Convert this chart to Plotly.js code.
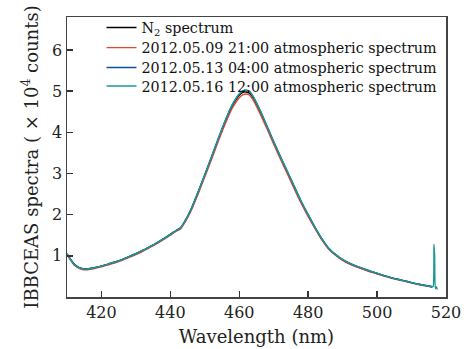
<!DOCTYPE html>
<html>
<head>
<meta charset="utf-8">
<script src="https://cdn.plot.ly/plotly-3.0.1.min.js"></script>
<style>html,body{margin:0;padding:0;background:#fff;}#chart{width:464px;height:349px;}</style>
</head>
<body>
<div id="chart"></div>
<script>
// Wavelength grid (nm)
const wavelength = [410,411,412,413,414,415,416,418,420,422,424,426,428,430,432,434,436,438,440,441,442,443,444,446,448,450,452,454,456,458,460,461,462,463,464,466,468,470,472,474,476,478,480,482,484,486,488,490,492,494,496,498,500,502,504,506,508,510,512,514,516,516.3,516.5,516.7,516.9,517.2,517.5];

// Spectra (x 10^4 counts)
const n2Spectrum = [1.05,0.92,0.80,0.74,0.70,0.68,0.68,0.71,0.75,0.80,0.85,0.91,0.98,1.05,1.13,1.22,1.31,1.41,1.52,1.58,1.63,1.68,1.80,2.12,2.53,2.96,3.40,3.85,4.27,4.64,4.90,4.97,4.98,4.95,4.84,4.51,4.14,3.75,3.38,3.02,2.66,2.30,1.98,1.68,1.40,1.17,1.02,0.90,0.81,0.74,0.68,0.62,0.57,0.52,0.47,0.43,0.39,0.35,0.31,0.28,0.25,null,null,null,null,null,null];
const atm0509 = [1.03,0.90,0.78,0.72,0.68,0.66,0.66,0.69,0.73,0.78,0.83,0.89,0.96,1.03,1.11,1.20,1.29,1.39,1.50,1.56,1.61,1.66,1.78,2.09,2.49,2.92,3.35,3.80,4.22,4.59,4.84,4.91,4.93,4.90,4.79,4.46,4.09,3.71,3.34,2.98,2.62,2.27,1.95,1.66,1.38,1.16,1.01,0.89,0.80,0.73,0.67,0.61,0.56,0.51,0.46,0.42,0.38,0.34,0.30,0.27,0.24,null,null,null,null,null,null];
const atm0513 = [1.05,0.92,0.80,0.74,0.70,0.68,0.68,0.71,0.75,0.80,0.85,0.91,0.98,1.05,1.13,1.22,1.31,1.41,1.52,1.58,1.63,1.68,1.81,2.13,2.54,2.97,3.42,3.87,4.30,4.67,4.93,5.00,5.02,4.99,4.87,4.54,4.16,3.77,3.40,3.04,2.68,2.32,2.00,1.69,1.41,1.18,1.03,0.91,0.82,0.75,0.69,0.63,0.58,0.52,0.47,0.43,0.39,0.35,0.31,0.28,0.25,null,null,null,null,null,null];
const atm0516 = [1.05,0.92,0.80,0.74,0.70,0.68,0.68,0.71,0.75,0.80,0.85,0.91,0.98,1.05,1.13,1.22,1.31,1.41,1.52,1.58,1.63,1.68,1.81,2.13,2.54,2.97,3.42,3.87,4.30,4.67,4.93,5.00,5.02,4.99,4.87,4.54,4.16,3.77,3.40,3.04,2.68,2.32,2.00,1.69,1.41,1.18,1.03,0.91,0.82,0.75,0.69,0.63,0.58,0.52,0.47,0.43,0.39,0.35,0.31,0.28,0.25,0.26,1.28,1.00,0.20,0.25,0.18];

const seriesNames = ["N<sub>2</sub> spectrum","2012.05.09 21:00 atmospheric spectrum","2012.05.13 04:00 atmospheric spectrum","2012.05.16 12:00 atmospheric spectrum"];
const seriesValues = [n2Spectrum, atm0509, atm0513, atm0516];
const seriesColors = ["#000000","#e8462a","#0b4fa8","#1a9a94"];

const xTicks = [420,440,460,480,500,520];
const yTicks = [1,2,3,4,5,6];

const FONT = "'DejaVu Serif','Liberation Serif',serif";
const legendIds = ['legend','legend2','legend3','legend4'];
const legendY = [0.962, 0.890, 0.819, 0.753];

const traces = seriesValues.map((v,i)=>({
  x: wavelength, y: v, type:'scatter', mode:'lines', name: seriesNames[i], legend: legendIds[i],
  line:{color: seriesColors[i], width:1.4, shape:'spline', smoothing:0.5}, connectgaps:false
}));

const layout = {
  width:464, height:349,
  margin:{l:67, r:18, t:15, b:52},
  paper_bgcolor:'#fff', plot_bgcolor:'#fff',
  font:{family:FONT, color:'#222', size:15},
  showlegend:true,
  xaxis:{range:[410,520], tickvals:xTicks, ticktext:xTicks.map(String), ticks:'inside', ticklen:6, tickwidth:1.5, tickcolor:'#333',
         showgrid:false, zeroline:false, showline:true, linecolor:'#444', linewidth:1.5, mirror:true,
         tickfont:{family:FONT, size:16, color:'#222'},
         title:{text:'Wavelength (nm)', font:{family:FONT, size:18, color:'#222'}, standoff:9}},
  yaxis:{range:[0,6.8], tickvals:yTicks, ticktext:yTicks.map(String), ticks:'inside', ticklen:6, tickwidth:1.5, tickcolor:'#333',
         showgrid:false, zeroline:false, showline:true, linecolor:'#444', linewidth:1.5, mirror:true,
         tickfont:{family:FONT, size:16, color:'#222'},
         title:{text:'IBBCEAS spectra ( × 10<sup>4</sup> counts)', font:{family:FONT, size:18, color:'#222'}, standoff:9}}
};
legendIds.forEach((id,i)=>{
  layout[id] = {x:0.091, y:legendY[i], xanchor:'left', yanchor:'middle', bgcolor:'rgba(0,0,0,0)', borderwidth:0,
                font:{family:FONT, size:14.3, color:'#111'}, itemwidth:30};
});

Plotly.newPlot('chart', traces, layout, {displayModeBar:false, staticPlot:true});
</script>
</body>
</html>
